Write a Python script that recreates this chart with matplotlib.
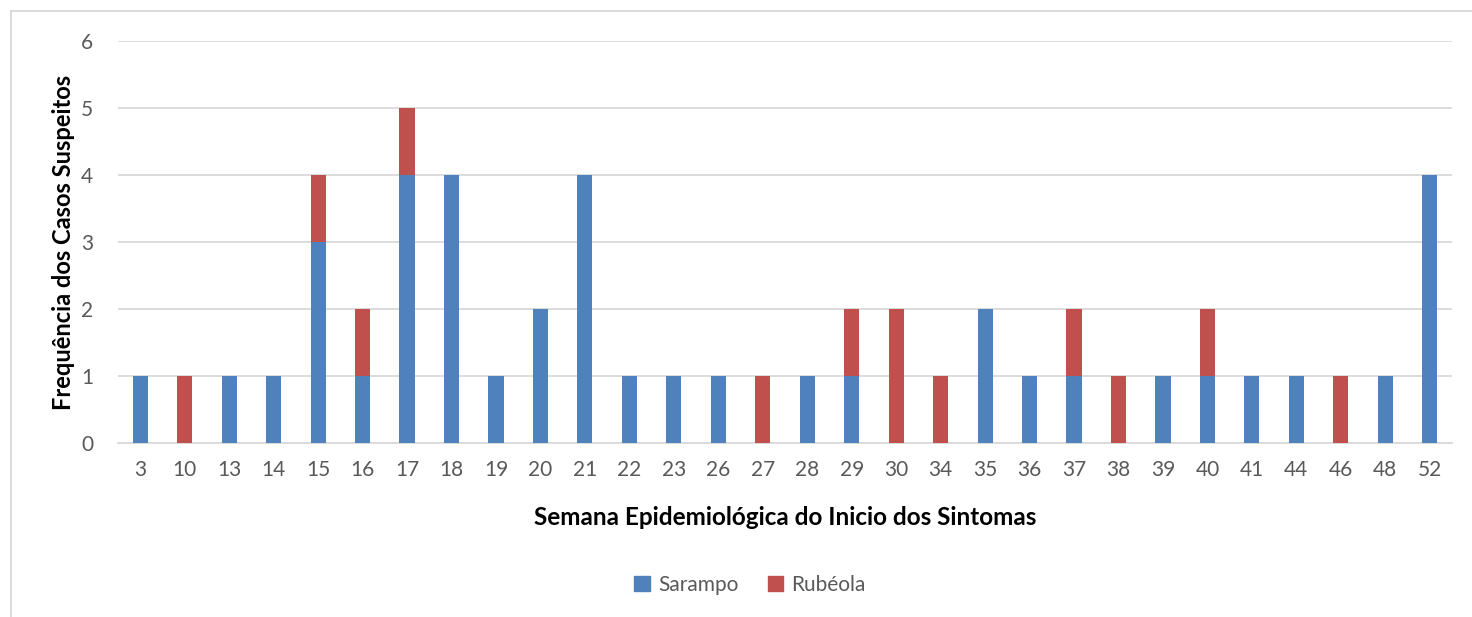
import numpy as np
import matplotlib
matplotlib.use("Agg")
import matplotlib.pyplot as plt
from matplotlib.lines import Line2D
from matplotlib.patches import Patch

weeks = ["3", "10", "13", "14", "15", "16", "17", "18", "19", "20", "21", "22",
         "23", "26", "27", "28", "29", "30", "34", "35", "36", "37", "38", "39",
         "40", "41", "44", "46", "48", "52"]
sarampo = [1, 0, 1, 1, 3, 1, 4, 4, 1, 2, 4, 1, 1, 1, 0, 1, 1, 0, 0, 2, 1, 1, 0, 1, 1, 1, 1, 0, 1, 4]
rubeola = [0, 1, 0, 0, 1, 1, 1, 0, 0, 0, 0, 0, 0, 0, 1, 0, 1, 2, 1, 0, 0, 1, 1, 0, 1, 0, 0, 1, 0, 0]

plt.rcParams['font.family'] = ['Lato', 'DejaVu Sans']
txt = '#595959'
blue = '#4F81BD'
red = '#C0504D'

fig = plt.figure(figsize=(14.72, 6.17), dpi=100)
W, H = 1472, 617
ax = fig.add_axes([118 / W, 1 - 443 / H, (1452 - 118) / W, (443 - 41) / H])

x = np.arange(len(weeks))
ax.bar(x, sarampo, width=0.34, color=blue, zorder=3)
ax.bar(x, rubeola, width=0.34, bottom=sarampo, color=red, zorder=3)

ax.set_xlim(-0.5, len(weeks) - 0.5)
ax.set_ylim(0, 6)
ax.set_yticks(range(7))
ax.set_xticks(x)
ax.set_xticklabels(weeks)
ax.tick_params(axis='both', length=0, labelsize=15, colors=txt)
ax.tick_params(axis='x', pad=12)
ax.tick_params(axis='y', pad=18)
ax.grid(axis='y', color='#d9d9d9', linewidth=1.3, zorder=0)
for s in ['top', 'right', 'left']:
    ax.spines[s].set_visible(False)
ax.spines['bottom'].set_color('#d9d9d9')
ax.spines['bottom'].set_linewidth(1.3)

ax.set_ylabel('Frequência dos Casos Suspeitos', fontsize=17, fontweight='bold',
              color='black', labelpad=4)
ax.set_xlabel('Semana Epidemiológica do Inicio dos Sintomas', fontsize=17.5,
              fontweight='bold', color='black', labelpad=19)

handles = [Patch(color=blue, label='Sarampo'), Patch(color=red, label='Rubéola')]
fig.legend(handles=handles, loc='center', bbox_to_anchor=(750 / W, 1 - 585 / H),
           ncol=2, frameon=False, fontsize=15, labelcolor=txt,
           handlelength=0.75, handleheight=0.75, handletextpad=0.4, columnspacing=1.4)

# chart frame (cropped at right and bottom)
fx, fy = 11 / W, 1 - 11 / H
fig.add_artist(Line2D([fx, 1], [fy, fy], color='#d9d9d9', linewidth=1.3))
fig.add_artist(Line2D([fx, fx], [0, fy], color='#d9d9d9', linewidth=1.3))

fig.savefig('out.png', dpi=100)
